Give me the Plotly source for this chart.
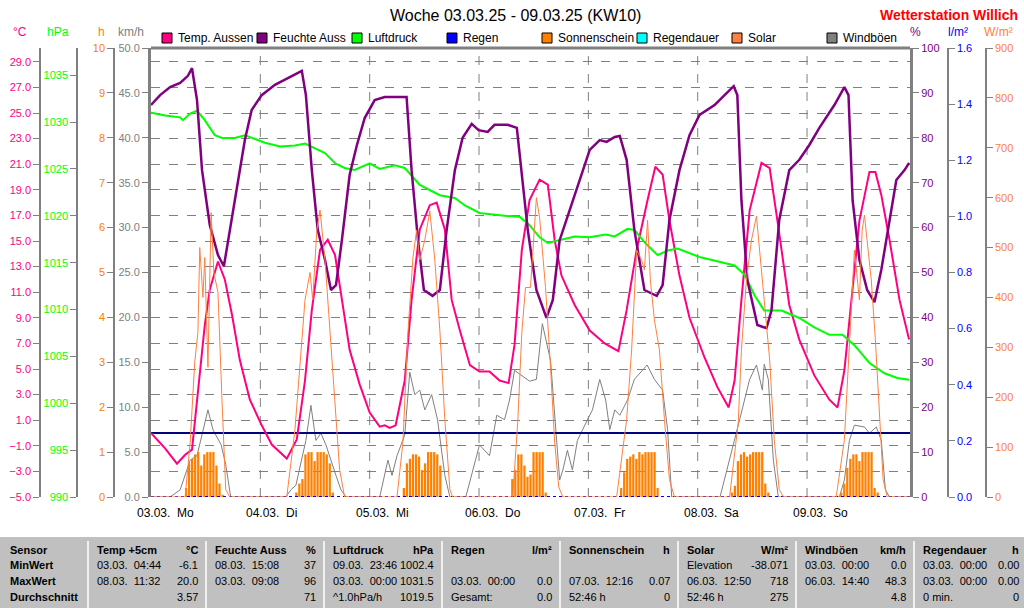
import plotly.graph_objects as go

# ---------------- data (hours since 03.03. 00:00) ----------------
temp_t = [0,3.1,5.7,7.5,9.0,10.7,11.8,12.9,14.7,16.2,17.8,19.5,21.7,24.3,26.5,29.8,32.0,33.8,35.3,37.1,38.8,40.4,41.9,43.6,45.8,48.0,50.2,51.3,52.4,53.7,55.7,57.2,59.0,61.2,62.7,64.5,66.0,67.8,70.0,72.1,74.3,76.5,78.5,79.8,81.4,83.1,85.3,87.1,88.6,90.1,93.0,96.3,99.6,102.6,104.4,106.6,109.0,110.7,112.3,113.8,116.0,118.2,121.5,124.3,126.8,128.1,129.6,131.4,134.0,135.8,137.5,140.1,142.3,145.6,148.9,150.7,152.2,153.7,155.5,157.7,159.0,160.3,162.1,164.3,166.4]
temp_v = [0.0,-1.2,-2.4,-1.7,-1.3,4.9,8.4,11.2,13.4,12.0,9.2,5.7,2.6,0.6,-0.9,-2.0,-0.5,4.1,9.6,14.3,15.1,13.9,10.4,6.5,3.8,1.6,0.5,0.6,0.4,0.6,4.1,10.4,15.9,17.8,18.0,15.9,10.4,8.0,5.3,4.8,4.8,4.1,3.9,6.9,14.3,18.2,19.8,19.4,15.1,12.3,10.0,8.0,7.0,6.4,9.6,14.3,18.2,20.8,20.2,16.6,12.3,9.0,5.9,3.6,2.0,4.1,10.4,17.4,21.1,20.7,16.6,10.0,7.3,4.5,2.6,2.0,4.9,10.4,16.6,20.4,20.4,18.6,15.1,10.4,7.3]

hum_t = [0,2.0,4.2,6.4,8.1,9.0,10.1,11.2,12.9,14.7,16.0,17.3,19.1,20.6,22.1,24.3,27.2,30.5,33.1,34.0,35.3,36.6,38.2,39.5,40.6,41.9,43.6,45.2,46.9,49.1,51.3,53.5,56.1,57.2,58.6,59.9,61.8,63.4,64.9,66.7,68.4,70.4,71.9,73.9,75.4,77.2,78.3,80.3,82.7,84.6,86.8,88.2,89.7,91.9,94.1,96.3,98.5,100.0,101.8,102.9,104.4,106.1,108.3,111.0,112.3,113.8,116.0,118.2,120.4,123.7,125.9,127.9,128.7,129.6,130.9,133.1,135.1,136.2,137.9,140.1,142.3,144.5,146.7,150.0,152.2,153.1,154.0,155.5,157.2,158.8,160.3,162.1,163.6,165.4,166.4]
hum_v = [87.3,89.5,91.3,92.2,93.8,95.5,88.4,72.8,60.6,53.9,51.4,59.5,70.6,79.5,86.2,89.5,91.8,93.5,94.9,89.5,72.8,59.5,52.8,46.1,47.2,57.2,71.7,78.4,84.4,88.4,89.1,89.1,89.1,72.8,57.2,46.1,44.8,46.1,59.5,72.8,80.0,83.1,81.7,81.3,82.9,82.9,82.9,82.2,59.5,46.1,39.9,43.9,57.2,63.9,70.6,77.3,79.5,79.1,80.2,80.4,75.1,59.5,46.1,44.8,47.2,61.7,72.8,80.6,85.1,87.3,89.5,91.5,89.5,66.1,48.3,38.3,37.6,41.6,61.7,72.8,75.1,78.4,82.2,87.3,91.3,89.5,66.1,52.8,46.1,43.4,50.6,61.7,70.6,72.8,74.4]

pres_t = [0,3.1,6.4,7.0,8.6,10.1,11.8,14.0,15.6,18.4,20.6,22.8,25.0,28.3,31.6,33.8,36.0,38.2,40.4,42.5,44.7,48.0,50.2,53.5,55.7,59.0,63.4,66.7,68.9,72.1,77.6,80.9,83.1,85.3,87.1,89.7,93.0,96.3,99.8,101.8,104.6,106.1,108.3,111.2,113.4,115.6,120.4,128.1,130.3,132.5,134.6,138.4,142.3,145.6,148.9,151.8,154.4,157.7,161.0,163.8,166.4]
pres_v = [1031.0,1030.7,1030.5,1030.2,1030.9,1031.2,1030.2,1028.6,1028.3,1028.3,1028.6,1028.2,1027.8,1027.4,1027.5,1027.7,1027.2,1026.7,1025.6,1025.1,1024.9,1025.6,1025.0,1025.4,1025.1,1023.3,1022.2,1021.9,1021.1,1020.3,1020.0,1019.9,1019.0,1017.7,1017.1,1017.4,1017.8,1017.7,1018.0,1017.8,1018.6,1018.5,1017.2,1015.8,1016.3,1016.5,1015.6,1014.7,1013.7,1011.5,1009.9,1009.9,1009.1,1008.1,1007.3,1007.3,1006.2,1004.3,1003.2,1002.7,1002.5]

gust_t = [0,4.2,6.4,8.6,10.1,12.5,13.6,15.4,16.4,17.5,29.6,30.7,31.8,34.0,35.1,36.2,37.3,38.4,40.6,41.7,42.8,50.2,52.0,52.9,54.0,55.7,56.8,57.9,59.0,60.1,61.6,62.9,64.5,65.6,69.1,72.1,74.3,75.9,77.6,78.7,79.8,83.1,84.6,85.9,87.7,88.8,89.7,90.4,91.4,92.5,93.6,95.8,96.9,98.5,99.8,100.7,101.8,102.9,104.6,106.1,107.9,108.9,110.5,112.3,113.4,114.0,114.3,124.9,127.0,129.2,131.4,132.9,134.2,134.6,135.5,136.6,137.7,151.1,152.2,153.3,154.4,156.6,157.7,159.2,160.3,161.2,162.1,166.6]
gust_v = [0,0,0.8,4.1,4.6,9.7,7.5,5.8,3.6,0,0,0.8,1.3,6.3,10.2,6.3,7.1,5.8,2.4,0.8,0,0,4.1,2.4,4.6,6.9,13.9,11.4,11.9,9.7,11.4,8.6,2.4,0,0,5.8,4.6,9.1,8.6,10.8,14.1,12.9,13.1,19.3,15.2,7.5,1.9,3.0,5.2,3.0,6.3,8.6,9.7,13.1,10.8,7.5,9.7,9.1,10.8,13.1,14.1,14.7,13.1,11.9,7.5,3.0,0,0,4.1,8.6,13.1,14.7,11.9,14.8,13.1,4.1,0,0,1.9,6.3,8.0,7.8,7.1,7.8,6.3,0.8,0,0]

solar_t = [0,7.5,8.6,9.6,10.3,10.7,11.4,11.8,12.5,13.2,13.8,14.7,15.6,16.4,17.3,
           29.8,31.6,32.7,33.8,34.9,35.5,36.4,37.1,38.2,39.3,40.4,41.4,42.5,
           54.0,55.3,56.4,57.5,58.3,59.0,60.1,61.2,62.3,63.4,64.5,65.6,66.2,
           79.4,80.5,81.4,82.2,83.3,84.6,85.3,86.6,87.7,88.6,89.5,90.4,
           102.2,104.4,105.5,106.6,107.7,108.3,109.0,109.6,110.5,111.6,112.7,113.8,114.9,
           127.0,128.9,129.6,130.7,131.8,132.9,133.6,134.6,135.8,136.8,137.9,138.8,
           150.4,152.2,153.3,154.4,155.5,156.1,156.6,157.2,158.1,159.0,159.9,160.7,161.6,166.6]
solar_v = [0,0,110,270,330,500,400,480,260,570,450,410,190,15,0,
           0,135,275,395,450,395,535,575,475,335,195,55,0,
           0,110,330,480,535,475,515,573,475,335,155,15,0,
           0,150,330,420,420,600,560,420,260,110,20,0,
           0,155,295,495,475,455,555,435,355,295,155,35,0,
           0,150,295,435,515,563,495,395,275,115,15,0,
           0,115,295,495,395,535,565,515,435,315,155,35,0,0]

sun_start = [7.7, 31.9, 55.5, 79.3, 103.2, 127.5, 151.5]
sun_step = 0.667
sun_vals = [
    [0.2,0.75,0.85,0.95,1.0,0.7,0.95,1.0,1.0,1.0,0.7,0.3,0.05],
    [0.1,0.3,0.4,0.95,1.0,1.0,0.8,1.0,1.0,1.0,0.95,0.75,0.1],
    [0.2,0.75,0.85,0.95,0.95,0.9,0.6,0.75,1.0,1.0,1.0,0.95,0.7],
    [0.4,0.6,0.95,0.95,0.7,0.45,0.5,1.0,1.0,1.0,1.0,0.1],
    [0.2,0.55,0.85,0.9,0.95,0.85,1.0,0.95,1.0,1.0,1.0,1.0,0.2],
    [0.1,0.25,0.8,0.95,1.0,0.9,0.95,1.0,1.0,1.0,1.0,0.3,0.1],
    [0.1,0.3,0.65,0.85,0.95,0.95,0.8,1.0,1.0,1.0,1.0,0.2,0.1],
]
day_labels = ["03.03.  Mo","04.03.  Di","05.03.  Mi","06.03.  Do","07.03.  Fr","08.03.  Sa","09.03.  So"]

legend_items = [("Temp. Aussen","#ff0080"),("Feuchte Auss","#800080"),("Luftdruck","#00ff00"),
                ("Regen","#0000ff"),("Sonnenschein","#ff8000"),("Regendauer","#00ffff"),
                ("Solar","#ff8040"),("Windböen","#808080")]

row_labels = ["Sensor","MinWert","MaxWert","Durchschnitt"]
table_cols = [
    ("Temp +5cm","°C",["03.03.  04:44","08.03.  11:32",""],["-6.1","20.0","3.57"]),
    ("Feuchte Auss","%",["08.03.  15:08","03.03.  09:08",""],["37","96","71"]),
    ("Luftdruck","hPa",["09.03.  23:46","03.03.  00:00","^1.0hPa/h"],["1002.4","1031.5","1019.5"]),
    ("Regen","l/m²",["","03.03.  00:00","Gesamt:"],["","0.0","0.0"]),
    ("Sonnenschein","h",["","07.03.  12:16","52:46 h"],["","0.07","0"]),
    ("Solar","W/m²",["Elevation","06.03.  12:50","52:46 h"],["-38.071","718","275"]),
    ("Windböen","km/h",["03.03.  00:00","06.03.  14:40",""],["0.0","48.3","4.8"]),
    ("Regendauer","h",["03.03.  00:00","03.03.  00:00","0 min."],["0.00","0.00","0"]),
]

# ---------------- figure ----------------
W, H = 1024, 608
def px(x): return x / W
def py(y): return 1 - y / H

FONT = "Liberation Sans, Arial, sans-serif"
fig = go.Figure()

sx, sy = [], []
for st, vals in zip(sun_start, sun_vals):
    for i, v in enumerate(vals):
        sx.append(st + i * sun_step); sy.append(v)
fig.add_trace(go.Bar(x=sx, y=sy, yaxis="y4", marker=dict(color="#ff8000", line_width=0), width=0.5))
fig.add_trace(go.Scatter(x=solar_t, y=solar_v, yaxis="y7", mode="lines", line=dict(color="#ff8040", width=1)))
fig.add_trace(go.Scatter(x=gust_t, y=gust_v, yaxis="y", mode="lines", line=dict(color="#808080", width=1)))
fig.add_trace(go.Scatter(x=[0, 166.6], y=[0, 0], yaxis="y6", mode="lines", line=dict(color="#0000ff", width=2, dash="dot")))
fig.add_trace(go.Scatter(x=[0, 166.6], y=[0, 0], yaxis="y4", mode="lines", line=dict(color="#00ffff", width=1.5, dash="dot")))
fig.add_trace(go.Scatter(x=[0, 166.6], y=[0, 0], yaxis="y2", mode="lines", line=dict(color="#000080", width=2)))
fig.add_trace(go.Scatter(x=pres_t, y=pres_v, yaxis="y3", mode="lines", line=dict(color="#00ff00", width=2)))
fig.add_trace(go.Scatter(x=hum_t, y=hum_v, yaxis="y5", mode="lines", line=dict(color="#800080", width=2.5)))
fig.add_trace(go.Scatter(x=temp_t, y=temp_v, yaxis="y2", mode="lines", line=dict(color="#ff0080", width=2)))

ydom = [py(497), py(48)]
def ax(color, rng, dtick, fmt, pos=None, side="left", anchor="free", grid=False):
    d = dict(domain=ydom, range=rng, dtick=dtick, tick0=rng[0], tickformat=fmt, side=side,
             ticks="outside", ticklen=6, tickcolor="#808080", showline=True, linecolor="#808080",
             linewidth=1.5, tickfont=dict(family=FONT, size=11, color=color), showgrid=grid,
             zeroline=False, fixedrange=True, automargin=False)
    if anchor == "free":
        d.update(anchor="free", position=pos)
    else:
        d.update(anchor="x")
    return d

y1 = ax("#808080", [0, 50], 5, ".1f", anchor="x")
y1["linewidth"] = 3
y2 = ax("#ff0080", [-5, 30.08], 2, ".1f", pos=px(40), grid=True)
y2.update(overlaying="y", gridcolor="#808080", griddash="dash", gridwidth=1)
y3 = ax("#00ff00", [990, 1037.9], 5, "d", pos=px(77)); y3["overlaying"] = "y"
y4 = ax("#ff8000", [0, 10], 1, "d", pos=px(114)); y4["overlaying"] = "y"
y5 = ax("#800080", [0, 100], 10, "d", side="right", anchor="x"); y5["overlaying"] = "y"; y5["linewidth"] = 3
y6 = ax("#0000ff", [0, 1.6], 0.2, ".1f", pos=px(948), side="right"); y6["overlaying"] = "y"
y7 = ax("#ff8040", [0, 900], 100, "d", pos=px(986), side="right"); y7["overlaying"] = "y"

fig.update_layout(
    width=W, height=H, margin=dict(l=0, r=0, t=0, b=0, pad=0, autoexpand=False),
    paper_bgcolor="white", plot_bgcolor="white", showlegend=False, barmode="overlay",
    xaxis=dict(domain=[px(151), px(910)], range=[0, 166.6], showticklabels=False, showgrid=False,
               zeroline=False, showline=False, fixedrange=True, automargin=False),
    yaxis=y1, yaxis2=y2, yaxis3=y3, yaxis4=y4, yaxis5=y5, yaxis6=y6, yaxis7=y7,
    font=dict(family=FONT),
)

shapes = []
ann = []
def text(x, y, t, size=12, color="black", xanchor="center", xref="paper", xshift=0):
    ann.append(dict(x=x, y=py(y), xref=xref, yref="paper", text=t, showarrow=False, xanchor=xanchor,
                    yanchor="middle", xshift=xshift, font=dict(family=FONT, size=size, color=color)))

shapes.append(dict(type="line", xref="paper", yref="paper", x0=px(151), x1=px(910), y0=py(48), y1=py(48),
                   line=dict(color="#808080", width=3)))
for i, lab in enumerate(day_labels):
    if i > 0:
        shapes.append(dict(type="line", xref="x", yref="paper", x0=24 * i, x1=24 * i, y0=ydom[0], y1=ydom[1],
                           line=dict(color="#808080", width=1, dash="dash"), layer="below"))
    text(24 * i, 513, lab, xanchor="left", xref="x", xshift=-16)

text(px(515), 15, "Woche 03.03.25 - 09.03.25 (KW10)", size=16)
text(px(1020), 15, "<b>Wetterstation Willich</b>", size=14, color="#ff0000", xanchor="right")
for t, x, c in [("°C", 20, "#ff0080"), ("hPa", 58, "#00ff00"), ("h", 101, "#ff8000"), ("km/h", 131, "#808080"),
                ("%", 915, "#800080"), ("l/m²", 958, "#0000ff"), ("W/m²", 998, "#ff8040")]:
    text(px(x), 32, t, color=c)
for i, (name, c) in enumerate(legend_items):
    x0 = 162 + i * 95
    shapes.append(dict(type="rect", xref="paper", yref="paper", x0=px(x0), x1=px(x0 + 10), y0=py(43), y1=py(33),
                       fillcolor=c, line=dict(color="black", width=1)))
    text(px(x0 + 14), 38, name, xanchor="left")

shapes.append(dict(type="rect", xref="paper", yref="paper", x0=0, x1=1, y0=0, y1=py(537),
                   fillcolor="#c0c0c0", line=dict(width=0)))
row_y = [550, 565, 581, 597]
for j, t in enumerate(row_labels):
    text(px(8), row_y[j], f"<b>{t}</b>", size=11, xanchor="left")
col_w = 118
for k, (hdr, unit, lefts, rights) in enumerate(table_cols):
    x0 = 88 + k * col_w
    xr = px(min(x0 + col_w - 6, 1021))
    shapes.append(dict(type="line", xref="paper", yref="paper", x0=px(x0), x1=px(x0), y0=0, y1=py(541),
                       line=dict(color="#f0f0f0", width=2)))
    text(px(x0 + 7), row_y[0], f"<b>{hdr}</b>", size=11, xanchor="left")
    text(xr, row_y[0], f"<b>{unit}</b>", size=11, xanchor="right")
    for r in range(3):
        if lefts[r]:
            text(px(x0 + 7), row_y[r + 1], lefts[r], size=11, xanchor="left")
        if rights[r]:
            text(xr, row_y[r + 1], rights[r], size=11, xanchor="right")

fig.update_layout(shapes=shapes, annotations=ann)
fig.write_html("out.html", default_width="1024px", default_height="608px",
               config={"displayModeBar": False})
with open("out.html", encoding="utf-8") as f:
    html = f.read()
html = html.replace("<body>", '<body style="margin:0;padding:0;overflow:hidden">', 1)
with open("out.html", "w", encoding="utf-8") as f:
    f.write(html)
